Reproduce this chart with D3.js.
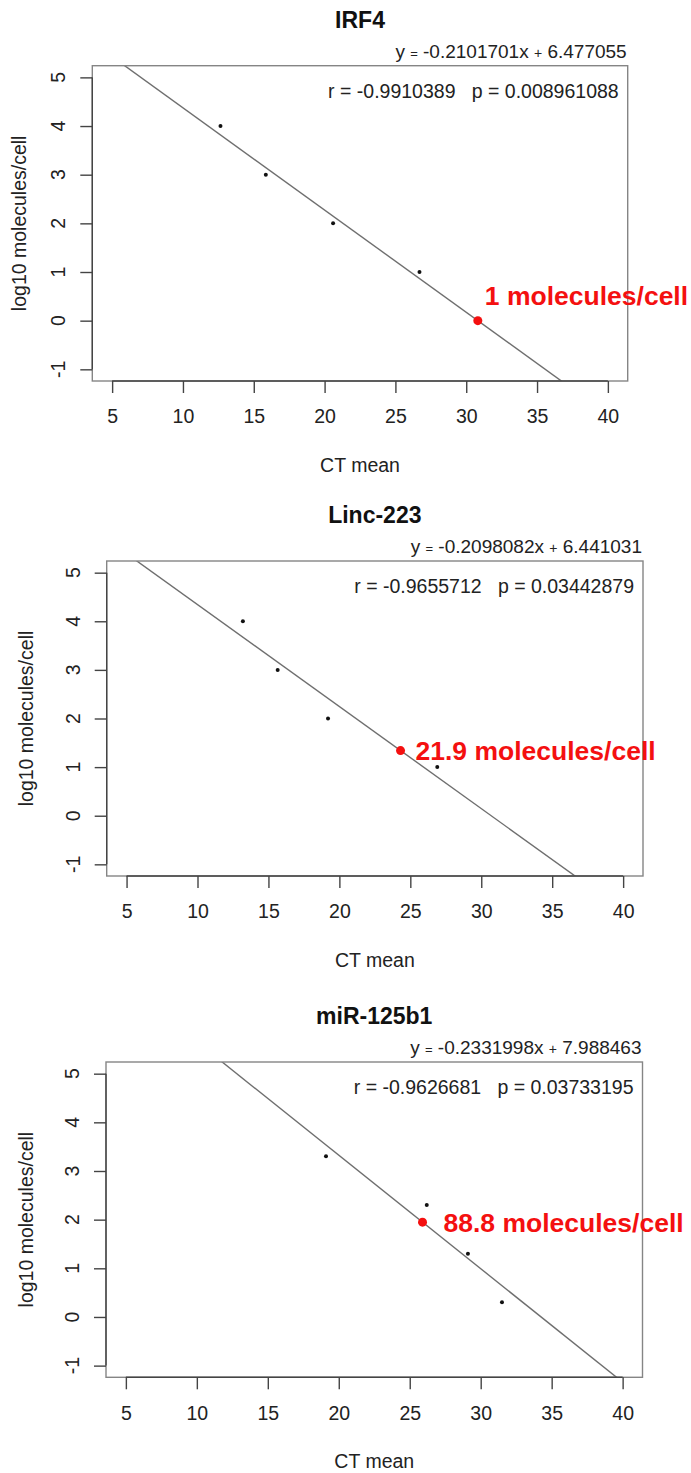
<!DOCTYPE html>
<html><head><meta charset="utf-8">
<script src="https://cdn.jsdelivr.net/npm/d3@7"></script>
<style>
body{margin:0;background:#fff;}
svg{display:block;font-family:"Liberation Sans",Arial,Helvetica,sans-serif;}
</style>
</head><body>
<svg id="chart" width="691" height="1473"></svg>
<script>
// ---- data ----
const titles = ["IRF4", "Linc-223", "miR-125b1"];
const ctIRF4 = [12.65, 15.85, 20.6, 26.7];
const logIRF4 = [4, 3, 2, 1];
const ctLinc223 = [13.2, 15.65, 19.2, 26.9];
const logLinc223 = [4, 3, 2, 1];
const ctMiR125b1 = [19.1, 26.2, 29.1, 31.5];
const logMiR125b1 = [3.301, 2.301, 1.301, 0.301];
const slopes = [-0.2101701, -0.2098082, -0.2331998];
const intercepts = [6.477055, 6.441031, 7.988463];
const slopeLabels = ["-0.2101701", "-0.2098082", "-0.2331998"];
const interceptLabels = ["6.477055", "6.441031", "7.988463"];
const rValues = ["-0.9910389", "-0.9655712", "-0.9626681"];
const pValues = ["0.008961088", "0.03442879", "0.03733195"];
const moleculesPerCell = [1, 21.9, 88.8];
const xTicks = [5, 10, 15, 20, 25, 30, 35, 40];
const yTicks = [-1, 0, 1, 2, 3, 4, 5];
const xLim = [5, 40];
const yLim = [-1, 5];
const xTitle = "CT mean";
const yTitle = "log10 molecules/cell";

const ctSeries = [ctIRF4, ctLinc223, ctMiR125b1];
const logSeries = [logIRF4, logLinc223, logMiR125b1];

// ---- layout ----
const boxes = [
  {left: 92.3, right: 627.7, top: 65.7, bottom: 381, ylabX: 19, lab: [7, -25]},
  {left: 106.7, right: 643, top: 561, bottom: 876, ylabX: 26, lab: [15, 0]},
  {left: 106, right: 642.5, top: 1062, bottom: 1377.3, ylabX: 26, lab: [21, 1]}
];

const svg = d3.select("#chart");
const ext = (l) => { const d = l[1] - l[0]; return [l[0] - 0.04 * d, l[1] + 0.04 * d]; };

titles.forEach((title, i) => {
  const B = boxes[i];
  const g = svg.append("g");
  const x = d3.scaleLinear().domain(ext(xLim)).range([B.left, B.right]);
  const y = d3.scaleLinear().domain(ext(yLim)).range([B.bottom, B.top]);

  const clipId = "clip" + i;
  svg.append("clipPath").attr("id", clipId).append("rect")
    .attr("x", B.left).attr("y", B.top).attr("width", B.right - B.left).attr("height", B.bottom - B.top);

  // regression line
  const xd = x.domain();
  g.append("line").attr("clip-path", `url(#${clipId})`)
    .attr("x1", x(xd[0])).attr("y1", y(slopes[i] * xd[0] + intercepts[i]))
    .attr("x2", x(xd[1])).attr("y2", y(slopes[i] * xd[1] + intercepts[i]))
    .attr("stroke", "#6f6f6f").attr("stroke-width", 1.4);

  // box
  g.append("rect").attr("x", B.left).attr("y", B.top)
    .attr("width", B.right - B.left).attr("height", B.bottom - B.top)
    .attr("fill", "none").attr("stroke", "#858585").attr("stroke-width", 1.4);

  // x axis
  const xa = g.append("g").attr("transform", `translate(0,${B.bottom})`)
    .call(d3.axisBottom(x).tickValues(xTicks).tickSize(12).tickPadding(16.5).tickFormat(d3.format("d")));
  xa.select(".domain").remove();
  xa.selectAll(".tick line").attr("stroke", "#444").attr("stroke-width", 1.4);
  xa.selectAll(".tick text").attr("font-size", "19.5px").attr("fill", "#222")
    .attr("font-family", "Liberation Sans, Arial, sans-serif");
  g.append("line").attr("x1", x(xLim[0])).attr("x2", x(xLim[1]))
    .attr("y1", B.bottom).attr("y2", B.bottom).attr("stroke", "#444").attr("stroke-width", 1.4);

  // y axis
  const ya = g.append("g").attr("transform", `translate(${B.left},0)`)
    .call(d3.axisLeft(y).tickValues(yTicks).tickSize(12).tickFormat(""));
  ya.select(".domain").remove();
  ya.selectAll(".tick line").attr("stroke", "#444").attr("stroke-width", 1.4);
  g.append("line").attr("x1", B.left).attr("x2", B.left)
    .attr("y1", y(yLim[0])).attr("y2", y(yLim[1])).attr("stroke", "#444").attr("stroke-width", 1.4);
  g.selectAll(".ytl").data(yTicks).join("text").attr("class", "ytl")
    .attr("transform", d => `translate(${B.left - 34},${y(d)}) rotate(-90)`)
    .attr("text-anchor", "middle").attr("dy", "0.35em")
    .attr("font-size", "19.5px").attr("fill", "#222").text(d => d);

  // axis titles
  g.append("text").attr("x", (B.left + B.right) / 2).attr("y", B.bottom + 84)
    .attr("dy", "0.35em").attr("text-anchor", "middle").attr("font-size", "19.5px")
    .attr("fill", "#222").text(xTitle);
  g.append("text").attr("transform", `translate(${B.ylabX},${(B.top + B.bottom) / 2}) rotate(-90)`)
    .attr("dy", "0.35em").attr("text-anchor", "middle").attr("font-size", "19.5px")
    .attr("fill", "#222").text(yTitle);

  // title
  g.append("text").attr("x", (B.left + B.right) / 2).attr("y", B.top - 46)
    .attr("dy", "0.35em").attr("text-anchor", "middle").attr("font-size", "23px")
    .attr("font-weight", "bold").attr("fill", "#111").text(title);

  // equation
  const eq = g.append("text").attr("x", B.right - 1).attr("y", B.top - 14.5)
    .attr("dy", "0.35em").attr("text-anchor", "end").attr("font-size", "19px").attr("fill", "#222");
  eq.append("tspan").text("y ");
  eq.append("tspan").attr("font-size", "13px").text("=");
  eq.append("tspan").text(" " + slopeLabels[i] + "x ");
  eq.append("tspan").attr("font-size", "14px").text("+");
  eq.append("tspan").text(" " + interceptLabels[i]);

  // r / p legend
  g.append("text").attr("x", B.right - 9).attr("y", B.top + 25)
    .attr("dy", "0.35em").attr("text-anchor", "end").attr("font-size", "19.5px")
    .attr("fill", "#222").attr("xml:space", "preserve").style("white-space", "pre")
    .text(`r = ${rValues[i]}   p = ${pValues[i]}`);

  // data points
  g.selectAll(".pt").data(ctSeries[i].map((c, k) => [c, logSeries[i][k]])).join("circle")
    .attr("class", "pt").attr("cx", d => x(d[0])).attr("cy", d => y(d[1]))
    .attr("r", 2).attr("fill", "#111");

  // estimated point
  const ly = Math.log10(moleculesPerCell[i]);
  const lx = (ly - intercepts[i]) / slopes[i];
  g.append("circle").attr("cx", x(lx)).attr("cy", y(ly)).attr("r", 4.5).attr("fill", "#f41010");
  g.append("text").attr("x", x(lx) + B.lab[0]).attr("y", y(ly) + B.lab[1])
    .attr("dy", "0.35em").attr("font-size", "26.5px").attr("font-weight", "bold")
    .attr("fill", "#f41010").text(`${moleculesPerCell[i]} molecules/cell`);
});
</script>
</body></html>
